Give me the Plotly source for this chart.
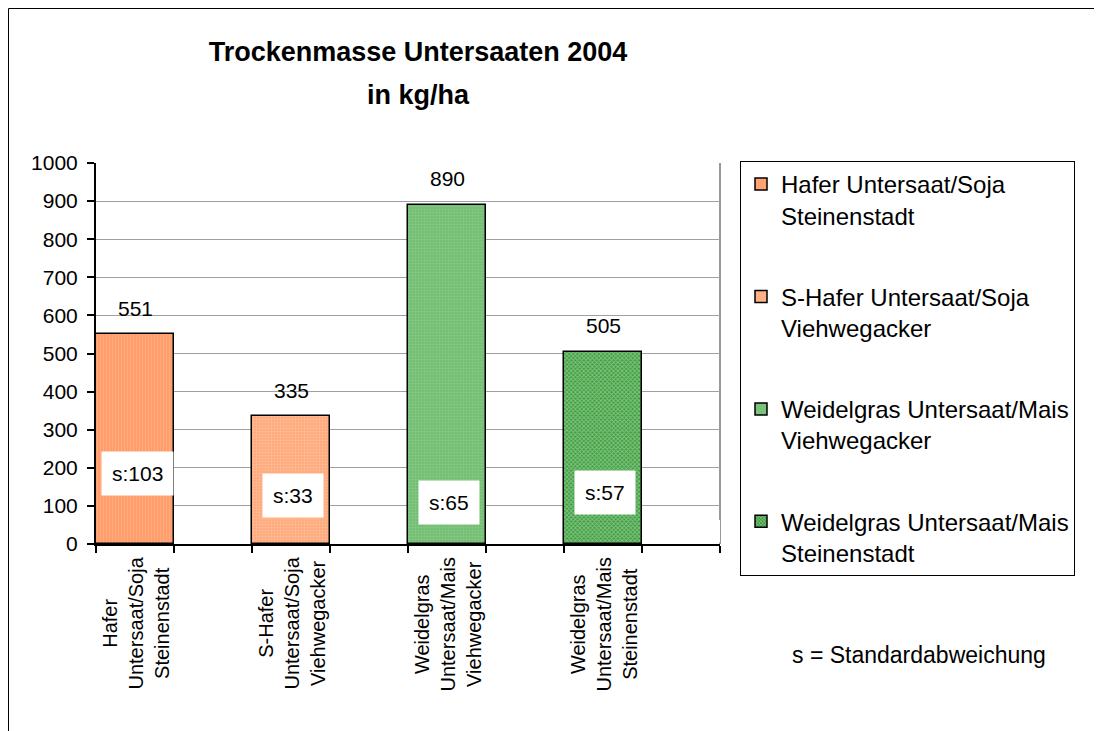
import plotly.graph_objects as go

# ---------------- data ----------------
legend_names = [
    "Hafer Untersaat/Soja<br>Steinenstadt",
    "S-Hafer Untersaat/Soja<br>Viehwegacker",
    "Weidelgras Untersaat/Mais<br>Viehwegacker",
    "Weidelgras Untersaat/Mais<br>Steinenstadt",
]
axis_labels = [
    "Hafer<br>Untersaat/Soja<br>Steinenstadt",
    "S-Hafer<br>Untersaat/Soja<br>Viehwegacker",
    "Weidelgras<br>Untersaat/Mais<br>Viehwegacker",
    "Weidelgras<br>Untersaat/Mais<br>Steinenstadt",
]
values = [551, 335, 890, 505]
std_dev = [103, 33, 65, 57]
std_label_y = [184, 126, 108, 136]
y_ticks = list(range(0, 1001, 100))
title_lines = ["Trockenmasse Untersaaten 2004", "in kg/ha"]
note_text = "s = Standardabweichung"

# ---------------- styles ----------------
bg_colors = ["#FF9966", "#FFA575", "#6DBB6D", "#3E9E3E"]
fg_colors = ["#FFBE96", "#FFD2B4", "#9ED29E", "#CDEBCD"]
shapes_pat = ["|", ".", ".", "x"]
pat_sizes = [3, 3, 3, 3]

FONT = "Liberation Sans, Arial, sans-serif"

# page offset: the figure is placed 8px from the window corner
OFF = 8
PL, PR, PT, PB = 96, 720, 163, 544  # plot area in window pixels


def px_x(x):
    return (x - PL) / (PR - PL)


def px_y(y):
    return (PB - y) / (PB - PT)


slots = [2 * i + 0.5 for i in range(len(values))]

fig = go.Figure()
for i, (name, v) in enumerate(zip(legend_names, values)):
    fig.add_trace(go.Bar(
        x=[slots[i]], y=[v], width=1, name=name,
        legendgroup=f"g{i}",
        marker=dict(
            color=bg_colors[i],
            line=dict(color="black", width=1.5),
            pattern=dict(shape=shapes_pat[i], bgcolor=bg_colors[i],
                         fgcolor=fg_colors[i], size=pat_sizes[i], solidity=0.5),
        ),
        hoverinfo="skip",
    ))

annotations = []
for i, v in enumerate(values):
    annotations.append(dict(
        x=slots[i], y=v, xref="x", yref="y", text=str(v), showarrow=False,
        yanchor="middle", yshift=26, font=dict(size=21, color="black", family=FONT)))
    annotations.append(dict(
        x=slots[i], y=std_label_y[i], xref="x", yref="y", text=f"s:{std_dev[i]}",
        showarrow=False, bgcolor="white", borderpad=10, xshift=2,
        font=dict(size=21, color="black", family=FONT)))
    annotations.append(dict(
        x=slots[i], y=px_y(555), xref="x", yref="paper", text=axis_labels[i],
        showarrow=False, textangle=-90, yanchor="top", xanchor="center",
        align="center", font=dict(size=20, color="black", family=FONT)))

annotations.append(dict(
    x=px_x(418), y=px_y(95), xref="paper", yref="paper",
    text=f"<b>{title_lines[1]}</b>", showarrow=False, xanchor="center", yanchor="middle",
    font=dict(size=27, color="black", family=FONT)))

annotations.append(dict(
    x=px_x(919), y=px_y(655), xref="paper", yref="paper",
    text=note_text, showarrow=False, xanchor="center", yanchor="middle",
    font=dict(size=23, color="black", family=FONT)))

shapes = [
    # outer chart border (figure edge)
    dict(type="rect", xref="paper", yref="paper",
         x0=px_x(OFF + 0.5), x1=px_x(1130),
         y0=px_y(780), y1=px_y(OFF + 0.5),
         line=dict(color="black", width=1), fillcolor="rgba(0,0,0,0)", layer="below"),
    # right border of plot area
    dict(type="line", xref="paper", yref="paper", x0=1, x1=1, y0=0, y1=1,
         line=dict(color="#999999", width=2), layer="below"),
    # white patch at bottom right of plot area
    dict(type="rect", xref="x", yref="y", x0=7.0, x1=8.05, y0=4, y1=63,
         line=dict(width=0), fillcolor="white", layer="above"),
]

W, H = 1102, 731
fig.update_layout(
    width=W, height=H,
    margin=dict(l=PL - OFF, r=W - (PR - OFF), t=PT - OFF, b=H - (PB - OFF)),
    paper_bgcolor="white", plot_bgcolor="white",
    font=dict(family=FONT, color="black"),
    title=dict(
        text=f"<b>{title_lines[0]}</b>",
        x=px_x(418), xref="paper", xanchor="center",
        y=1 - (52 - OFF) / H, yref="container", yanchor="middle",
        font=dict(size=27, family=FONT, color="black"),
    ),
    barmode="overlay",
    bargap=0,
    showlegend=True,
    legend=dict(
        x=px_x(740), y=px_y(161), xanchor="left", yanchor="top",
        bordercolor="black", borderwidth=1, bgcolor="white",
        font=dict(size=24, family=FONT, color="black"),
        tracegroupgap=47, valign="top", traceorder="grouped",
        maxheight=650,
    ),
    xaxis=dict(
        range=[0, 8], showgrid=False, zeroline=False,
        showline=True, linecolor="black", linewidth=2,
        tickvals=slots, ticktext=[""] * len(slots), ticks="",
        showticklabels=False,
        minor=dict(tickmode="array", tickvals=list(range(0, 9)), ticks="outside",
                   ticklen=7, tickcolor="black", tickwidth=1.5, showgrid=False),
        fixedrange=True,
    ),
    yaxis=dict(
        range=[0, 1000], tickvals=y_ticks, ticks="outside", ticklen=7,
        tickcolor="black", tickwidth=1.5, ticklabelstandoff=5,
        showline=True, linecolor="black", linewidth=2,
        showgrid=True, gridcolor="#A0A0A0", gridwidth=1, zeroline=False,
        tickfont=dict(size=21, family=FONT, color="black"),
        fixedrange=True,
    ),
    annotations=annotations,
    shapes=shapes,
)

fig.write_html("out.html")
